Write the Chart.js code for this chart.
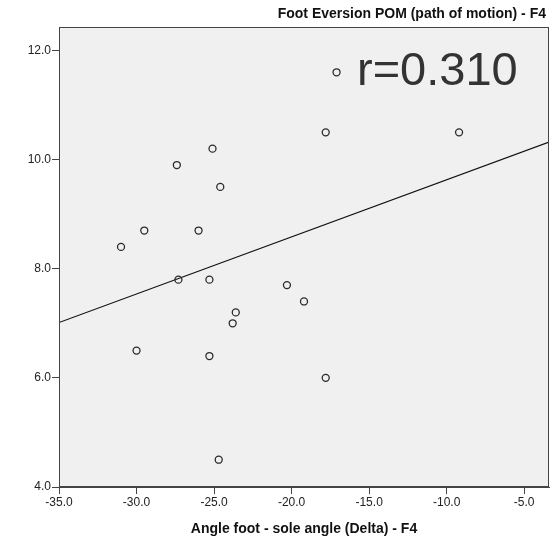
<!DOCTYPE html>
<html><head><meta charset="utf-8">
<script src="https://cdn.jsdelivr.net/npm/chart.js@4"></script>
<style>html,body{margin:0;padding:0;background:#fff}canvas{display:block}</style>
</head><body>
<canvas id="c" width="554" height="539"></canvas>
<script>
const chartTitle = "Foot Eversion POM (path of motion) - F4";
const xAxisTitle = "Angle foot - sole angle (Delta) - F4";
const rLabel = "r=0.310";
const xValues = [-17.1, -17.8, -9.2, -25.1, -27.4, -24.6, -29.5, -26.0, -31.0, -27.3, -25.3, -20.3, -19.2, -23.6, -23.8, -30.0, -25.3, -17.8, -24.7];
const yValues = [11.6, 10.5, 10.5, 10.2, 9.9, 9.5, 8.7, 8.7, 8.4, 7.8, 7.8, 7.7, 7.4, 7.2, 7.0, 6.5, 6.4, 6.0, 4.5];
const xTicks = [-35, -30, -25, -20, -15, -10, -5];
const yTicks = [4, 6, 8, 10, 12];
const xRange = [-35, -3.4];
const yRange = [4, 12.43];

const points = xValues.map((x, i) => ({x, y: yValues[i]}));
// least squares fit line
const n = xValues.length;
const mx = xValues.reduce((a, b) => a + b, 0) / n;
const my = yValues.reduce((a, b) => a + b, 0) / n;
let sxy = 0, sxx = 0;
for (let i = 0; i < n; i++) { sxy += (xValues[i] - mx) * (yValues[i] - my); sxx += (xValues[i] - mx) ** 2; }
const slope = sxy / sxx, icpt = my - slope * mx;
const fitLine = xRange.map(x => ({x, y: icpt + slope * x}));

const FONT = "'Liberation Sans', Arial, sans-serif";

const decor = {
  id: 'decor',
  beforeDraw(chart) {
    const {ctx, chartArea: a} = chart;
    ctx.save();
    ctx.fillStyle = '#f0f0f0';
    ctx.fillRect(a.left, a.top, a.right - a.left, a.bottom - a.top);
    ctx.restore();
  },
  afterDraw(chart) {
    const {ctx, chartArea: a} = chart;
    ctx.save();
    ctx.strokeStyle = '#444';
    ctx.lineWidth = 1;
    ctx.strokeRect(Math.round(a.left) + 0.5, Math.round(a.top) + 0.5, Math.round(a.right - a.left) - 1, Math.round(a.bottom - a.top) - 1);
    ctx.fillStyle = '#111';
    ctx.font = 'bold 14px ' + FONT;
    ctx.textBaseline = 'middle';
    ctx.textAlign = 'right';
    ctx.fillText(chartTitle, a.right - 3, 14);
    ctx.textAlign = 'center';
    ctx.fillText(xAxisTitle, (a.left + a.right) / 2, 529);
    ctx.fillStyle = '#333';
    ctx.font = '47px ' + FONT;
    ctx.textAlign = 'left';
    ctx.fillText(rLabel, a.left + 298, 72);
    ctx.restore();
  }
};

new Chart(document.getElementById('c'), {
  type: 'scatter',
  data: {
    datasets: [
      {data: points, showLine: false, pointRadius: 3.5, pointHoverRadius: 3.5, pointBorderWidth: 1.3,
       borderColor: '#2a2a2a', backgroundColor: 'rgba(0,0,0,0)', pointBackgroundColor: 'rgba(0,0,0,0)', order: 1},
      {data: fitLine, showLine: true, pointRadius: 0, borderColor: '#111', borderWidth: 1.2, fill: false, order: 2}
    ]
  },
  options: {
    responsive: false, animation: false, events: [],
    layout: {padding: {top: 27, right: 5, left: 0, bottom: 0}},
    plugins: {legend: {display: false}, tooltip: {enabled: false}, title: {display: false}},
    scales: {
      x: {
        type: 'linear', min: xRange[0], max: xRange[1],
        afterBuildTicks(s) { s.ticks = xTicks.map(v => ({value: v})); },
        afterFit(s) { s.height = 52; },
        border: {display: true, color: '#444', width: 1},
        grid: {drawOnChartArea: false, drawTicks: true, tickLength: 7, color: '#444'},
        ticks: {padding: 1, color: '#222', font: {family: FONT, size: 12}, maxRotation: 0, autoSkip: false,
                callback: v => Number(v).toFixed(1)}
      },
      y: {
        type: 'linear', min: yRange[0], max: yRange[1],
        afterBuildTicks(s) { s.ticks = yTicks.map(v => ({value: v})); },
        afterFit(s) { s.width = 59; },
        border: {display: true, color: '#444', width: 1},
        grid: {drawOnChartArea: false, drawTicks: true, tickLength: 7, color: '#444'},
        ticks: {padding: 1, color: '#222', font: {family: FONT, size: 12}, autoSkip: false,
                callback: v => Number(v).toFixed(1)}
      }
    }
  },
  plugins: [decor]
});
</script>
</body></html>
